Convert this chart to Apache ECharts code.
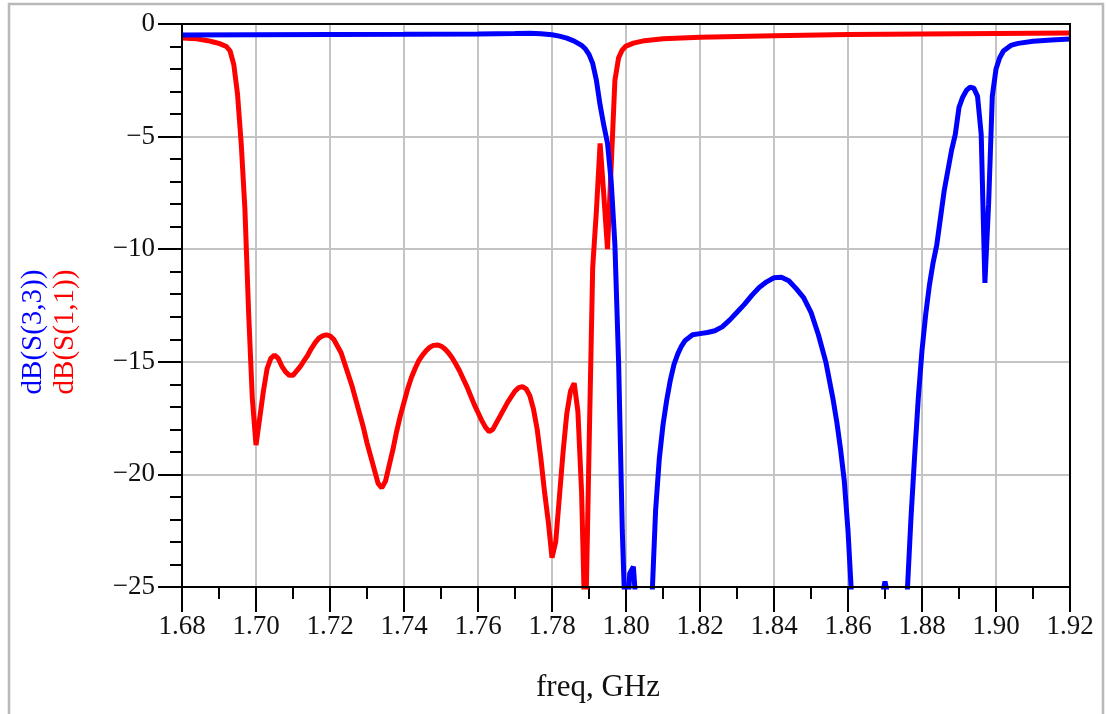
<!DOCTYPE html>
<html>
<head>
<meta charset="utf-8">
<script src="https://cdn.jsdelivr.net/npm/echarts@6/dist/echarts.min.js"></script>
<style>
  html, body { margin: 0; padding: 0; background: #ffffff; }
  #chart { width: 1106px; height: 714px; }
</style>
</head>
<body>
<div id="chart"></div>
<script>
// Frequency sweep (GHz) and return loss (dB) for port 1
const s11Freq = [
  1.680, 1.684, 1.687, 1.689, 1.690, 1.692, 1.693, 1.694, 1.695, 1.696,
  1.697, 1.698, 1.699, 1.700, 1.701, 1.702, 1.703, 1.704, 1.705, 1.706,
  1.707, 1.708, 1.709, 1.710, 1.711, 1.712, 1.713, 1.714, 1.715, 1.716,
  1.717, 1.718, 1.719, 1.720, 1.721, 1.722, 1.723, 1.724, 1.725, 1.726,
  1.727, 1.728, 1.729, 1.730, 1.731, 1.732, 1.733, 1.734, 1.735, 1.736,
  1.737, 1.738, 1.739, 1.740, 1.741, 1.742, 1.743, 1.744, 1.745, 1.746,
  1.747, 1.748, 1.749, 1.750, 1.751, 1.752, 1.753, 1.754, 1.755, 1.756,
  1.757, 1.758, 1.759, 1.760, 1.761, 1.762, 1.763, 1.764, 1.765, 1.766,
  1.767, 1.768, 1.769, 1.770, 1.771, 1.772, 1.773, 1.774, 1.775, 1.776,
  1.777, 1.778, 1.779, 1.780, 1.781, 1.782, 1.783, 1.784, 1.785, 1.786,
  1.787, 1.788, 1.789, 1.790, 1.791, 1.792, 1.793, 1.794, 1.795, 1.796,
  1.797, 1.798, 1.799, 1.800, 1.802, 1.805, 1.810, 1.820, 1.840, 1.860,
  1.880, 1.900, 1.920
];
const s11Db = [
  -0.62, -0.66, -0.74, -0.82, -0.86, -1.0, -1.2, -1.8, -3.1, -5.3,
  -8.2, -12.8, -16.6, -18.7, -17.5, -16.3, -15.3, -14.85, -14.7, -14.85,
  -15.2, -15.45, -15.6, -15.6, -15.4, -15.2, -14.95, -14.7, -14.4, -14.15,
  -13.95, -13.85, -13.8, -13.85, -14.0, -14.3, -14.6, -15.1, -15.6, -16.1,
  -16.7, -17.3, -17.9, -18.6, -19.2, -19.8, -20.4, -20.6, -20.3, -19.6,
  -18.9, -18.1, -17.4, -16.8, -16.2, -15.7, -15.3, -14.95, -14.7, -14.5,
  -14.35, -14.27, -14.25, -14.3, -14.42, -14.6, -14.82, -15.1, -15.4, -15.75,
  -16.1, -16.5, -16.9, -17.25, -17.6, -17.9, -18.1, -18.0, -17.7, -17.4,
  -17.1, -16.8, -16.55, -16.3, -16.15, -16.1, -16.2, -16.5, -17.1, -18.0,
  -19.3, -20.8, -22.1, -23.7, -23.0, -21.0, -19.0, -17.3, -16.3, -15.95,
  -17.2, -20.8, -27.5, -19.0, -10.8, -8.3, -5.3, -7.6, -10.0, -6.3,
  -2.5, -1.5, -1.15, -0.98, -0.85, -0.74, -0.66, -0.59, -0.52, -0.47,
  -0.44, -0.42, -0.40
];

// Frequency sweep (GHz) and return loss (dB) for port 3
const s33Freq = [
  1.680, 1.700, 1.720, 1.740, 1.760, 1.770, 1.774, 1.777, 1.780, 1.782,
  1.784, 1.786, 1.788, 1.789, 1.790, 1.791, 1.792, 1.793, 1.794, 1.795,
  1.796, 1.797, 1.798, 1.799, 1.800, 1.801, 1.802, 1.803, 1.804, 1.805,
  1.806, 1.807, 1.808, 1.809, 1.810, 1.811, 1.812, 1.813, 1.814, 1.815,
  1.816, 1.818, 1.820, 1.822, 1.824, 1.826, 1.828, 1.830, 1.832, 1.834,
  1.836, 1.838, 1.840, 1.842, 1.844, 1.846, 1.848, 1.850, 1.852, 1.854,
  1.856, 1.857, 1.858, 1.859, 1.860, 1.861, 1.862, 1.865, 1.868, 1.869,
  1.870, 1.871, 1.872, 1.874, 1.875, 1.876, 1.877, 1.878, 1.879, 1.880,
  1.881, 1.882, 1.883, 1.884, 1.885, 1.886, 1.887, 1.888, 1.889, 1.890,
  1.891, 1.892, 1.893, 1.894, 1.895, 1.896, 1.897, 1.898, 1.899, 1.900,
  1.901, 1.902, 1.904, 1.906, 1.910, 1.915, 1.920
];
const s33Db = [
  -0.49, -0.48, -0.47, -0.46, -0.44, -0.42, -0.41, -0.43, -0.48, -0.54,
  -0.63, -0.76, -0.95, -1.1, -1.35, -1.75, -2.5, -3.6, -4.5, -5.3,
  -7.0, -9.8, -15.0, -22.5, -27.5, -24.4, -24.1, -26.5, -30.0, -32.0,
  -29.0, -25.6, -21.6, -19.3, -17.8, -16.7, -15.8, -15.1, -14.65, -14.3,
  -14.05, -13.8, -13.75, -13.7, -13.62, -13.45, -13.15, -12.8, -12.45, -12.05,
  -11.7, -11.45, -11.27, -11.25, -11.4, -11.75, -12.15, -12.8, -13.8, -15.0,
  -16.7, -17.7, -18.9, -20.3, -22.5, -25.5, -29.0, -33.0, -28.0, -25.6,
  -24.75, -25.6, -28.0, -31.0, -27.5, -25.3, -22.0, -19.2, -16.6, -14.5,
  -12.9, -11.6, -10.6, -9.8, -8.6, -7.4, -6.5, -5.6, -4.9, -3.7,
  -3.25, -2.95, -2.8, -2.85, -3.2, -4.9, -11.5, -8.0, -3.2, -2.0,
  -1.5, -1.2, -0.95, -0.86, -0.77, -0.71, -0.67
];

const xTicks = { min: 1.68, max: 1.92, step: 0.02 };
const yTicks = { min: -25, max: 0, step: 5 };

const FONT = '"Liberation Serif", "DejaVu Serif", serif';
const pair = (xs, ys) => xs.map((x, i) => [x, ys[i]]);

const chart = echarts.init(document.getElementById('chart'), null, { renderer: 'canvas' });

const tickStyle = { color: '#000000', width: 2 };

chart.setOption({
  animation: false,
  backgroundColor: '#ffffff',
  grid: { left: 182, top: 24, width: 888, height: 563, containLabel: false },
  xAxis: {
    type: 'value',
    min: xTicks.min,
    max: xTicks.max,
    interval: xTicks.step,
    axisLine: { show: true, onZero: false, lineStyle: tickStyle },
    axisTick: { show: true, length: 25, lineStyle: tickStyle },
    minorTick: { show: true, splitNumber: 2, length: 12, lineStyle: tickStyle },
    splitLine: { show: true, showMinLine: false, showMaxLine: false, lineStyle: { color: '#c4c4c4', width: 2 } },
    axisLabel: {
      margin: 26,
      color: '#111111',
      fontFamily: FONT,
      fontSize: 27,
      formatter: v => v.toFixed(2)
    }
  },
  yAxis: {
    type: 'value',
    min: yTicks.min,
    max: yTicks.max,
    interval: yTicks.step,
    axisLine: { show: true, onZero: false, lineStyle: tickStyle },
    axisTick: { show: true, length: 24, lineStyle: tickStyle },
    minorTick: { show: true, splitNumber: 5, length: 12, lineStyle: tickStyle },
    splitLine: { show: true, showMinLine: false, showMaxLine: false, lineStyle: { color: '#c4c4c4', width: 2 } },
    axisLabel: {
      margin: 27,
      color: '#111111',
      fontFamily: FONT,
      fontSize: 27,
      padding: [0, 0, 10, 0],
      formatter: v => (v === 0 ? '0' : '\u2212' + Math.abs(v))
    }
  },
  series: [
    {
      name: 'dB(S(1,1))',
      type: 'line',
      data: pair(s11Freq, s11Db),
      showSymbol: false,
      clip: true,
      lineStyle: { color: '#ff0000', width: 5 },
      itemStyle: { color: '#ff0000' }
    },
    {
      name: 'dB(S(3,3))',
      type: 'line',
      data: pair(s33Freq, s33Db),
      showSymbol: false,
      clip: true,
      lineStyle: { color: '#0000ff', width: 5 },
      itemStyle: { color: '#0000ff' }
    }
  ],
  graphic: [
    // outer panel frame
    {
      type: 'rect', z: 0, silent: true,
      shape: { x: 9, y: 4, width: 1094, height: 760 },
      style: { fill: 'none', stroke: '#b9b9b9', lineWidth: 2.5 }
    },
    // plot box (top and right edges)
    {
      type: 'rect', z: 100, silent: true,
      shape: { x: 182, y: 24, width: 888, height: 563 },
      style: { fill: 'none', stroke: '#000000', lineWidth: 2 }
    },
    {
      type: 'text', z: 100, silent: true,
      x: 33, y: 332, rotation: Math.PI / 2,
      style: {
        text: 'dB(S(3,3))', fill: '#0000ff', font: '29px ' + FONT,
        align: 'center', verticalAlign: 'middle', textAlign: 'center', textVerticalAlign: 'middle'
      }
    },
    {
      type: 'text', z: 100, silent: true,
      x: 65, y: 332, rotation: Math.PI / 2,
      style: {
        text: 'dB(S(1,1))', fill: '#ff0000', font: '29px ' + FONT,
        align: 'center', verticalAlign: 'middle', textAlign: 'center', textVerticalAlign: 'middle'
      }
    },
    {
      type: 'text', z: 100, silent: true,
      x: 598, y: 688,
      style: {
        text: 'freq, GHz', fill: '#111111', font: '31px ' + FONT,
        align: 'center', verticalAlign: 'middle', textAlign: 'center', textVerticalAlign: 'middle'
      }
    }
  ]
});
</script>
</body>
</html>
